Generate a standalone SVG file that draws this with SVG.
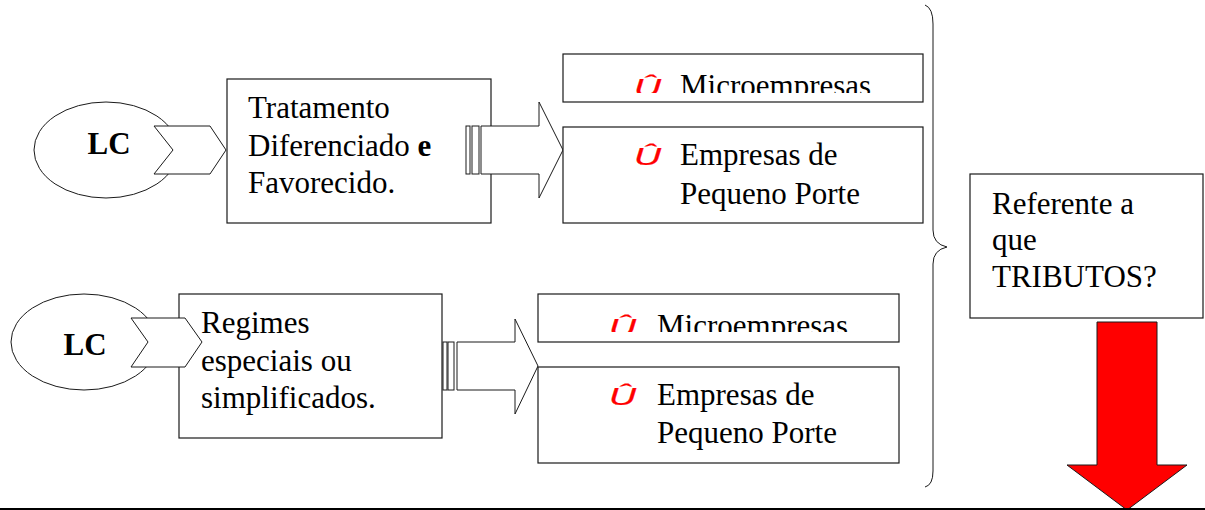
<svg xmlns="http://www.w3.org/2000/svg" width="1205" height="510" viewBox="0 0 1205 510">
<style>
.box{fill:#fff;stroke:#1a1a1a;stroke-width:1.2}
.shp{fill:#fff;stroke:#1a1a1a;stroke-width:1}
.t{font-family:"Liberation Serif","Times New Roman",serif;font-size:31px;fill:#000}
.lc{font-family:"Liberation Serif","Times New Roman",serif;font-size:31px;font-weight:bold;fill:#000;text-anchor:middle}
.u{font-family:"Liberation Sans",Arial,sans-serif;font-style:italic;font-size:30px;fill:#ff0000;stroke:#ff0000;stroke-width:0.3}
</style>
<defs>
<clipPath id="c1"><rect x="563" y="54" width="360" height="39"/></clipPath>
<clipPath id="c2"><rect x="538" y="294" width="361" height="38"/></clipPath>
</defs>
<rect width="1205" height="510" fill="#fff"/>

<g id="lc1">
<ellipse class="shp" cx="106" cy="150" rx="72" ry="48"/>
<text class="lc" x="109" y="154">LC</text>
</g>
<g id="lc2">
<ellipse class="shp" cx="84" cy="342" rx="73" ry="48"/>
<text class="lc" x="85" y="355">LC</text>
</g>

<g id="tratamento">
<rect class="box" x="227" y="79" width="264" height="144"/>
<text class="t" x="248" y="118">Tratamento</text>
<text class="t" x="248" y="156">Diferenciado <tspan font-weight="bold">e</tspan></text>
<text class="t" x="248" y="193">Favorecido.</text>
</g>
<g id="regimes">
<rect class="box" x="179" y="294" width="263" height="144"/>
</g>

<g id="connectors">
<polygon class="shp" points="154,126 210,126 226,150 210,174 154,174 173,150"/>
<polygon class="shp" points="131,318 185,318 202,342 185,367 131,367 148,342"/>
<rect class="shp" x="466" y="126" width="4" height="48"/>
<rect class="shp" x="472" y="126" width="7" height="48"/>
<polygon class="shp" points="481,126 539,126 539,102 563,150 539,198 539,174 481,174"/>
<rect class="shp" x="443" y="342" width="4" height="48"/>
<rect class="shp" x="448" y="342" width="6" height="48"/>
<polygon class="shp" points="457,342 515,342 515,319 538,366 515,414 515,390 457,390"/>
<path d="M925,5 Q933,8 933,24 L933,230 Q933,244 947,247 Q933,250 933,264 L933,471 Q933,485 925,487" fill="none" stroke="#1a1a1a" stroke-width="1"/>
<polygon points="1097,322 1157,322 1157,465 1187,465 1127,510 1067,465 1097,465" fill="#ff0000" stroke="#1a1a1a" stroke-width="1"/>
</g>

<g id="regimes-text">
<text class="t" x="201" y="333">Regimes</text>
<text class="t" x="201" y="371">especiais ou</text>
<text class="t" x="201" y="408">simplificados.</text>
</g>

<g id="micro1">
<rect class="box" x="563" y="54" width="360" height="48"/>
<g clip-path="url(#c1)">
<text class="u" transform="translate(634,96) scale(1.25,0.8)">Û</text>
<text class="t" x="680" y="96">Microempresas</text>
</g>
</g>
<g id="epp1">
<rect class="box" x="563" y="127" width="360" height="96"/>
<text class="u" transform="translate(634,165) scale(1.25,0.8)">Û</text>
<text class="t" x="680" y="165">Empresas de</text>
<text class="t" x="680" y="204">Pequeno Porte</text>
</g>
<g id="micro2">
<rect class="box" x="538" y="294" width="361" height="48"/>
<g clip-path="url(#c2)">
<text class="u" transform="translate(609,336) scale(1.25,0.8)">Û</text>
<text class="t" x="657" y="336">Microempresas</text>
</g>
</g>
<g id="epp2">
<rect class="box" x="538" y="367" width="361" height="96"/>
<text class="u" transform="translate(609,405) scale(1.25,0.8)">Û</text>
<text class="t" x="657" y="405">Empresas de</text>
<text class="t" x="657" y="443">Pequeno Porte</text>
</g>

<g id="tributos">
<rect class="box" x="970" y="174" width="233" height="144"/>
<text class="t" x="992" y="214">Referente a</text>
<text class="t" x="992" y="250">que</text>
<text class="t" x="992" y="287">TRIBUTOS?</text>
</g>

<line x1="0" y1="509" x2="1205" y2="509" stroke="#000" stroke-width="2"/>
</svg>
